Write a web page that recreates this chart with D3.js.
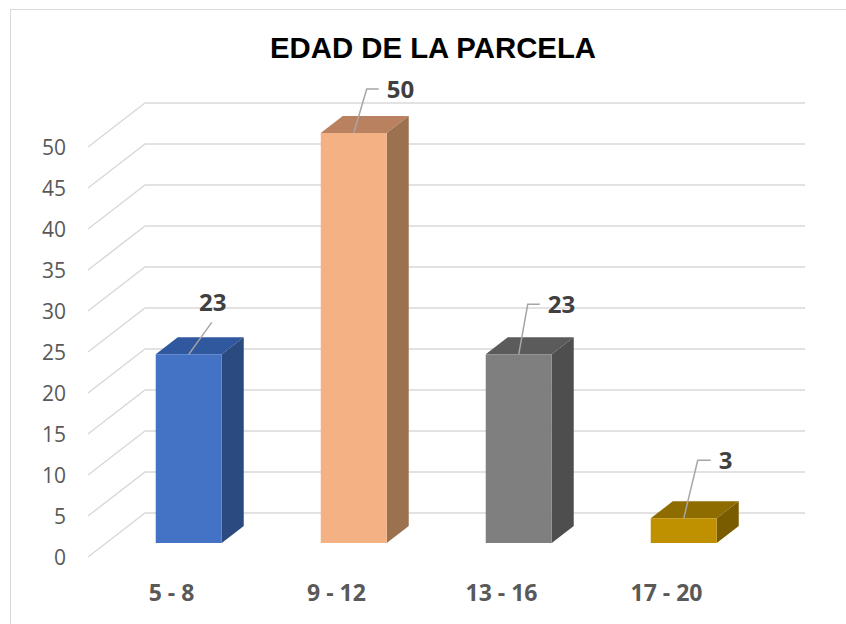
<!DOCTYPE html>
<html>
<head>
<meta charset="utf-8">
<script src="https://cdn.jsdelivr.net/npm/d3@7"></script>
<style>
  html, body { margin: 0; padding: 0; background: #fff; }
  svg { display: block; }
  .grid { fill: none; stroke: #d9d9d9; stroke-width: 1.5; }
  .tick-label { font-family: "Open Sans", sans-serif; font-size: 21px; fill: #595959; }
  .cat-label { font-family: "Open Sans", sans-serif; font-weight: 700; font-size: 23px; fill: #595959; }
  .val-label { font-family: "Open Sans", sans-serif; font-weight: 700; font-size: 24px; fill: #404040; }
  .leader { fill: none; stroke: #a6a6a6; stroke-width: 1.5; }
</style>
</head>
<body>
<svg id="chart" width="846" height="624"></svg>
<script>
// --- data ---
const categories = ["5 - 8", "9 - 12", "13 - 16", "17 - 20"];
const values = [23, 50, 23, 3];
const yTicks = [0, 5, 10, 15, 20, 25, 30, 35, 40, 45, 50];

// face colours per bar: front / top / side
const frontColors = ["#4472c4", "#f4b183", "#7f7f7f", "#bf9000"];
const topColors = ["#30589e", "#b9815f", "#5b5b5b", "#8f6c00"];
const sideColors = ["#2b4a80", "#9c7150", "#4e4e4e", "#7a5c00"];

// leader line layout (elbow offset from bar top, horizontal run)
const leaders = [
  { dx: 23, dy: -32, h: 0 },
  { dx: 13, dy: -44, h: 12 },
  { dx: 9, dy: -50, h: 12 },
  { dx: 14, dy: -58, h: 13 },
];

const svg = d3.select("#chart");

// chart area border
svg.append("rect")
  .attr("x", 10.5).attr("y", 9.5)
  .attr("width", 900).attr("height", 700)
  .attr("fill", "#fff").attr("stroke", "#d9d9d9").attr("stroke-width", 1);

svg.append("text")
  .attr("x", 433).attr("y", 58)
  .attr("text-anchor", "middle")
  .attr("textLength", 326).attr("lengthAdjust", "spacingAndGlyphs")
  .style("font-family", "'Liberation Sans', Arial, sans-serif")
  .style("font-weight", 700).style("font-size", "30px").style("fill", "#000")
  .text("EDAD DE LA PARCELA");

// --- 3D projection: front-left origin, depth vector ---
const x0 = 88, x1 = 748, yBase = 557;
const depth = [57, -44];
const x = d3.scaleBand().domain(categories).range([x0, x1])
  .paddingInner(0.6).paddingOuter(0.3);
const y = d3.scaleLinear().domain([0, 50]).range([0, 410]);

const proj = (px, v, t) => [px + depth[0] * t, yBase + depth[1] * t - y(v)];
const tFront = 0.32, tBack = 0.706;

// gridlines: side wall + back wall
const grid = svg.append("g");
yTicks.forEach(v => {
  const pts = [proj(x0, v, 0), proj(x0, v, 1), proj(x1, v, 1)];
  grid.append("path").attr("class", "grid").attr("d", d3.line()(pts));
});

// y tick labels
svg.append("g").selectAll("text").data(yTicks).join("text")
  .attr("class", "tick-label")
  .attr("x", 66)
  .attr("y", d => proj(x0, d, 0)[1])
  .attr("dy", "0.36em")
  .attr("text-anchor", "end")
  .text(d => d);

// bars
const bars = svg.append("g");
categories.forEach((c, i) => {
  const v = values[i];
  const l = x(c), r = x(c) + x.bandwidth();
  const poly = pts => d3.line()(pts) + "Z";
  // top face
  bars.append("path").attr("fill", topColors[i])
    .attr("d", poly([proj(l, v, tFront), proj(r, v, tFront), proj(r, v, tBack), proj(l, v, tBack)]));
  // side face
  bars.append("path").attr("fill", sideColors[i])
    .attr("d", poly([proj(r, 0, tFront), proj(r, v, tFront), proj(r, v, tBack), proj(r, 0, tBack)]));
  // front face
  bars.append("path").attr("fill", frontColors[i])
    .attr("d", poly([proj(l, 0, tFront), proj(r, 0, tFront), proj(r, v, tFront), proj(l, v, tFront)]));
});

// category labels
svg.append("g").selectAll("text").data(categories).join("text")
  .attr("class", "cat-label")
  .attr("x", d => x(d) + x.bandwidth() / 2 + 1)
  .attr("y", 601)
  .attr("text-anchor", "middle")
  .text(d => d);

// data labels with leaders
const lab = svg.append("g");
categories.forEach((c, i) => {
  const a = proj(x(c) + x.bandwidth() / 2, values[i], tFront);
  const L = leaders[i];
  const e = [a[0] + L.dx, a[1] + L.dy];
  const pts = [a, e];
  if (L.h) pts.push([e[0] + L.h, e[1]]);
  lab.append("path").attr("class", "leader").attr("d", d3.line()(pts));
  if (L.h) {
    lab.append("text").attr("class", "val-label")
      .attr("x", e[0] + L.h + 8).attr("y", e[1]).attr("dy", "0.36em")
      .text(values[i]);
  } else {
    lab.append("text").attr("class", "val-label")
      .attr("x", e[0] + 1).attr("y", e[1] - 11)
      .attr("text-anchor", "middle")
      .text(values[i]);
  }
});
</script>
</body>
</html>
